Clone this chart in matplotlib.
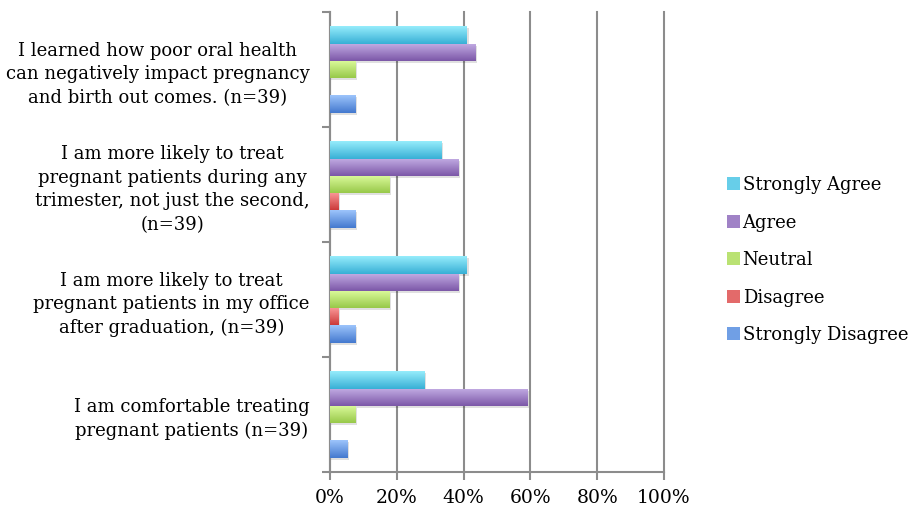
import matplotlib.pyplot as plt
import numpy as np
from matplotlib.colors import to_rgb
from matplotlib.patches import Patch, Rectangle
from matplotlib.ticker import FixedLocator, PercentFormatter

plt.rcParams["font.family"] = ["DejaVu Serif"]

questions = [
    "I learned how poor oral health\ncan negatively impact pregnancy\nand birth out comes. (n=39)",
    "I am more likely to treat\npregnant patients during any\ntrimester, not just the second,\n(n=39)",
    "I am more likely to treat\npregnant patients in my office\nafter graduation, (n=39)",
    "I am comfortable treating\npregnant patients (n=39)",
]
responses = ["Strongly Agree", "Agree", "Neutral", "Disagree", "Strongly Disagree"]

# percent of respondents, one list per response, in question order
strongly_agree = [41.0, 33.3, 41.0, 28.2]
agree = [43.6, 38.5, 38.5, 59.0]
neutral = [7.7, 17.9, 17.9, 7.7]
disagree = [0.0, 2.6, 2.6, 0.0]
strongly_disagree = [7.7, 7.7, 7.7, 5.1]
series = [strongly_agree, agree, neutral, disagree, strongly_disagree]

# (top, bottom) gradient colours for each response
shades = [
    ("#95ecfb", "#38b0d6"),
    ("#c3ace4", "#7c58a8"),
    ("#dcfb9c", "#98c94a"),
    ("#fb9a9a", "#cc3a3a"),
    ("#9cc4fb", "#4479cf"),
]

fig = plt.figure(figsize=(9.09, 5.11), dpi=100)
ax = fig.add_axes([330 / 909, 1 - 472 / 511, 334 / 909, 460 / 511])

bar_h = 0.15
n_q = len(questions)
centers = np.arange(n_q)[::-1].astype(float)

for j, (vals, (c_top, c_bot)) in enumerate(zip(series, shades)):
    ys = centers + (2 - j) * bar_h
    bars = ax.barh(ys, vals, height=bar_h, color=c_bot, edgecolor="none", zorder=3)
    grad = np.linspace(to_rgb(c_top), to_rgb(c_bot), 32)[:, None, :]
    for b, y, v in zip(bars, ys, vals):
        if v <= 0:
            continue
        # soft drop shadow
        ax.add_patch(Rectangle((0, y - bar_h / 2 - 0.018), v + 0.5, bar_h,
                               fc="#000000", alpha=0.12, ec="none", zorder=2))
        im = ax.imshow(grad, extent=[0, v, y - bar_h / 2, y + bar_h / 2],
                       origin="upper", aspect="auto", interpolation="bilinear",
                       zorder=4)
        im.set_clip_path(b)

ax.set_xlim(0, 100)
ax.set_ylim(-0.5, n_q - 0.5)

ax.xaxis.set_major_locator(FixedLocator([0, 20, 40, 60, 80, 100]))
ax.xaxis.set_major_formatter(PercentFormatter(decimals=0))
ax.grid(axis="x", color="#8c8c8c", lw=1.5, zorder=1)
for gl in ax.get_xgridlines():
    gl.set_clip_on(False)

ax.set_yticks(centers)
ax.set_yticklabels(questions, multialignment="center", linespacing=1.4)
ax.yaxis.set_minor_locator(FixedLocator(np.arange(-0.5, n_q, 1.0)))
ax.tick_params(axis="y", which="major", length=0, pad=14.5, labelsize=13)
ax.tick_params(axis="y", which="minor", length=6, width=1.5, color="#8c8c8c")
ax.tick_params(axis="x", length=6, width=1.5, color="#8c8c8c", labelsize=13.5, pad=6)

for side in ("top", "right"):
    ax.spines[side].set_visible(False)
for side in ("left", "bottom"):
    ax.spines[side].set_color("#8c8c8c")
    ax.spines[side].set_linewidth(1.5)

legend_cols = [np.mean([to_rgb(a), to_rgb(b)], axis=0) for a, b in shades]
handles = [Patch(facecolor=c, edgecolor="none") for c in legend_cols]
fig.legend(handles, responses, loc="center left", bbox_to_anchor=(720 / 909, 1 - 260 / 511),
           frameon=False, fontsize=13, handlelength=0.7, handleheight=0.7,
           handletextpad=0.15, labelspacing=1.08, borderaxespad=0)

fig.savefig("out.png", dpi=100)
